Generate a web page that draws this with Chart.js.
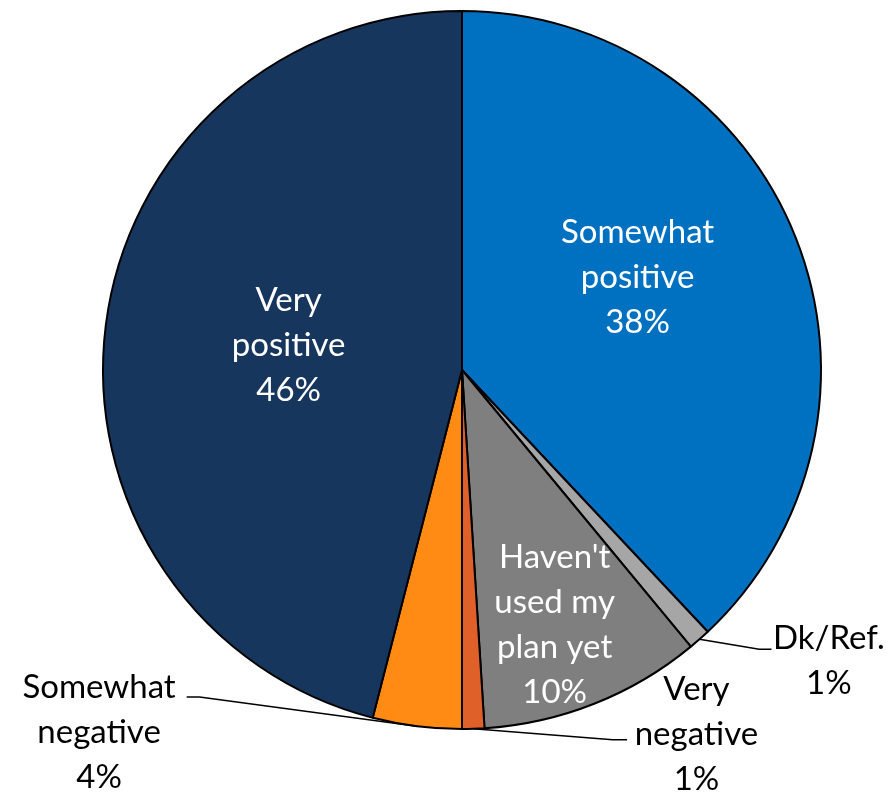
<!DOCTYPE html>
<html><head><meta charset="utf-8">
<script src="https://cdn.jsdelivr.net/npm/chart.js@4"></script>
<style>html,body{margin:0;padding:0;background:#fff}#wrap{width:896px;height:793px}</style>
</head><body><div id="wrap"><canvas id="c" width="896" height="793"></canvas></div>
<script>
const categories = ["Somewhat positive", "Dk/Ref.", "Haven't used my plan yet", "Very negative", "Somewhat negative", "Very positive"];
const values = [38, 1, 10, 1, 4, 46];
const colors = ["#0070C0", "#A6A6A6", "#7F7F7F", "#E0602A", "#FF8A14", "#17365D"];
// label text lines (without percentage)
const labelLines = [["Somewhat", "positive"], ["Dk/Ref."], ["Haven't", "used my", "plan yet"], ["Very", "negative"], ["Somewhat", "negative"], ["Very", "positive"]];

// label layout: inside labels placed relative to centre (in units of radius); outside labels with leader lines
const labelLayout = [
  {inside: true, dx: 0.489, dy: -0.258, color: "#fff"},
  {inside: false, tx: 1.022, ty: 0.811, elbow: [0.828, 0.778], end: [0.862, 0.778], color: "#000"},
  {inside: true, dx: 0.258, dy: 0.711, color: "#fff"},
  {inside: false, tx: 0.653, ty: 1.014, elbow: [0.42, 1.03], end: [0.46, 1.03], color: "#000"},
  {inside: false, tx: -1.011, ty: 1.008, elbow: [-0.731, 0.911], end: [-0.767, 0.911], color: "#000"},
  {inside: true, dx: -0.483, dy: -0.068, color: "#fff"}
];

const FONT = "Lato";
const FS = 33, LH = 45;

const labelPlugin = {
  id: 'labels',
  afterDraw(chart) {
    const ctx = chart.ctx;
    const arcs = chart.getDatasetMeta(0).data;
    ctx.save();
    ctx.font = FS + "px " + FONT;
    ctx.textAlign = "center";
    ctx.textBaseline = "middle";
    arcs.forEach((a, i) => {
      const p = a.getProps(['x', 'y', 'startAngle', 'endAngle', 'outerRadius'], true);
      const r = p.outerRadius, cx = p.x, cy = p.y;
      const lay = labelLayout[i];
      const lines = labelLines[i].concat([values[i] + "%"]);
      let tx, ty;
      if (lay.inside) { tx = cx + lay.dx * r; ty = cy + lay.dy * r; }
      else {
        tx = cx + lay.tx * r; ty = cy + lay.ty * r;
        const mid = (p.startAngle + p.endAngle) / 2;
        const sx = cx + Math.cos(mid) * r, sy = cy + Math.sin(mid) * r;
        ctx.beginPath();
        ctx.strokeStyle = "#000";
        ctx.lineWidth = 1.6;
        ctx.moveTo(sx, sy);
        ctx.lineTo(cx + lay.elbow[0] * r, cy + lay.elbow[1] * r);
        ctx.lineTo(cx + lay.end[0] * r, cy + lay.end[1] * r);
        ctx.stroke();
      }
      ctx.fillStyle = lay.color;
      const n = lines.length;
      lines.forEach((t, k) => {
        ctx.fillText(t, tx, ty + (k - (n - 1) / 2) * LH);
      });
    });
    ctx.restore();
  }
};

new Chart(document.getElementById('c'), {
  type: 'pie',
  data: {
    labels: categories,
    datasets: [{
      data: values,
      backgroundColor: colors,
      borderColor: "#000",
      borderWidth: 2,
      borderAlign: 'center'
    }]
  },
  options: {
    responsive: false,
    animation: false,
    layout: {padding: {left: 102, right: 74, top: 10, bottom: 63}},
    plugins: {legend: {display: false}, tooltip: {enabled: false}}
  },
  plugins: [labelPlugin]
});
</script>
</body></html>
